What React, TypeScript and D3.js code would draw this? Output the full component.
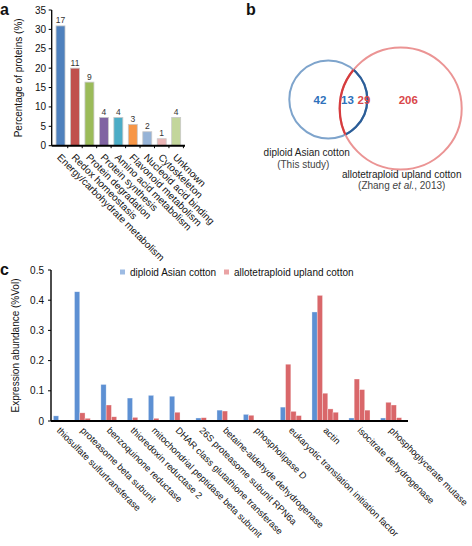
import React from 'react';
import * as d3 from 'd3';

const FONT = '"Liberation Sans", Arial, Helvetica, sans-serif';

// ---------- Panel a data ----------
const catA = [
  'Energy/carbohydrate metabolism',
  'Redox homeostasis',
  'Protein degradation',
  'Protein synthesis',
  'Amino acid metabolism',
  'Flavonoid metabolism',
  'Nucleoid acid binding',
  'Cytoskeleton',
  'Unknown',
];
const pctA = [30.9, 20.0, 16.4, 7.3, 7.3, 5.5, 3.6, 1.8, 7.3];
const countA = [17, 11, 9, 4, 4, 3, 2, 1, 4];
const colorsA = ['#4f81bd', '#c0504d', '#9bbb59', '#8064a2', '#4bacc6', '#f79646', '#95b3d7', '#eab4b4', '#c3d69b'];
const ticksA = [0, 5, 10, 15, 20, 25, 30, 35];

// ---------- Panel b data ----------
const vennCounts = [42, 13, 29, 206];
const vennSetA = ['diploid Asian cotton', '(This study)'];
const vennSetB = ['allotetraploid upland cotton', '(Zhang ', 'et al.', ', 2013)'];

// ---------- Panel c data ----------
const catC = [
  'thiosulfate sulfurtransferase',
  'proteasome beta subunit',
  'benzoquinone reductase',
  'thioredoxin reductase 2',
  'mitochondrial peptidase beta subunit',
  'DHAR class glutathione transferase',
  '26S proteasome subunit RPN6a',
  'betaine-aldehyde dehydrogenase',
  'phospholipase D',
  'eukaryotic translation initiation factor',
  'actin',
  'isocitrate dehydrogenase',
  'phosphoglycerate mutase',
];
const diploidC = [0.017, 0.428, 0.121, 0.076, 0.085, 0.082, 0.01, 0.036, 0.022, 0.046, 0.361, 0.01, 0.01];
const uplandC = [
  [0],
  [0.027, 0.009],
  [0.053, 0.014],
  [0.012],
  [0.009],
  [0.029, 0.002],
  [0.011],
  [0.033, 0.002],
  [0.019, 0.002, 0, 0],
  [0.188, 0.032, 0.018],
  [0.416, 0.092, 0.04, 0.029],
  [0.139, 0.104, 0.036],
  [0.062, 0.053, 0.011],
];
const ticksC = [0, 0.1, 0.2, 0.3, 0.4, 0.5];
const seriesC = ['diploid Asian cotton', 'allotetraploid upland cotton'];

export default function App() {
  // ---- Panel a scales ----
  const xA = d3.scaleBand<string>().domain(catA).range([51.7, 185]).paddingInner(0.38).paddingOuter(0.3);
  const yA = d3.scaleLinear().domain([0, 35]).range([145.7, 10]);

  // ---- Panel c scales ----
  const GAP = 2;
  let acc = 0;
  const groups = catC.map((c, i) => {
    const n = 1 + uplandC[i].length;
    const g = { cat: c, blue: diploidC[i], reds: uplandC[i], start: acc, n };
    acc += n + GAP;
    return g;
  });
  const total = acc - GAP;
  const xC = d3.scaleLinear().domain([-0.45, total + 1.2]).range([51, 408]);
  const yC = d3.scaleLinear().domain([0, 0.5]).range([421, 270]);
  const slotW = xC(1) - xC(0);

  const blueC = '#5d90d3';
  const redC = '#d9676a';

  // ---- Venn geometry ----
  const cA = { x: 328.3, y: 99.5, r: 39 };
  const cB = { x: 400.7, y: 108.5, r: 61 };

  return (
    <svg width={472} height={546} style={{ position: 'absolute', left: 0, top: 0, background: '#fff' }} fontFamily={FONT}>
      <rect x={0} y={0} width={472} height={546} fill="#fff" />
      <defs>
        <clipPath id="clipA"><circle cx={cA.x} cy={cA.y} r={cA.r} /></clipPath>
        <clipPath id="clipB"><circle cx={cB.x} cy={cB.y} r={cB.r} /></clipPath>
      </defs>

      {/* ================= Panel a ================= */}
      <text x={0} y={15} fontSize={16} fontWeight="bold" fill="#111">a</text>
      {pctA.map((v, i) => (
        <g key={'a' + i}>
          <rect x={xA(catA[i])!} y={yA(v)} width={xA.bandwidth()} height={yA(0) - yA(v)}
            fill={colorsA[i]} stroke="#c8c8c8" strokeWidth={0.8} />
          <text x={xA(catA[i])! + xA.bandwidth() / 2} y={yA(v) - 2.5} fontSize={8.5} textAnchor="middle" fill="#333">{countA[i]}</text>
        </g>
      ))}
      <line x1={51.7} x2={51.7} y1={yA(35)} y2={yA(0)} stroke="#000" strokeWidth={1.3} />
      <line x1={51.7} x2={185} y1={yA(0)} y2={yA(0)} stroke="#000" strokeWidth={2} />
      {ticksA.map(t => (
        <g key={'ta' + t}>
          <line x1={48.7} x2={51.7} y1={yA(t)} y2={yA(t)} stroke="#000" strokeWidth={1} />
          <text x={46} y={yA(t)} dy="0.35em" fontSize={10} textAnchor="end" fill="#111">{t}</text>
        </g>
      ))}
      {catA.map((c, i) => (
        <line key={'xt' + i} x1={xA(c)! + xA.bandwidth() + xA.step() * 0.19} x2={xA(c)! + xA.bandwidth() + xA.step() * 0.19}
          y1={yA(0)} y2={yA(0) + 2.5} stroke="#000" strokeWidth={1} />
      ))}
      <text transform={`translate(22,${(yA(0) + yA(35)) / 2}) rotate(-90)`} fontSize={10} textAnchor="middle" fill="#111">
        Percentage of proteins (%)
      </text>
      {catA.map((c, i) => {
        const cx = xA(c)! + xA.bandwidth() / 2 - 4;
        return (
          <text key={'la' + i} transform={`translate(${cx},158) rotate(45)`} fontSize={10} fill="#111">{c}</text>
        );
      })}

      {/* ================= Panel b ================= */}
      <text x={246} y={15} fontSize={16} fontWeight="bold" fill="#111">b</text>
      <circle cx={cA.x} cy={cA.y} r={cA.r} fill="none" stroke="#7ea4cc" strokeWidth={2} />
      <circle cx={cB.x} cy={cB.y} r={cB.r} fill="none" stroke="#eb9494" strokeWidth={2} />
      <circle cx={cA.x} cy={cA.y} r={cA.r} fill="none" stroke="#2c5d97" strokeWidth={2.2} clipPath="url(#clipB)" />
      <circle cx={cB.x} cy={cB.y} r={cB.r} fill="none" stroke="#d63c3e" strokeWidth={2.2} clipPath="url(#clipA)" />
      <text x={320} y={103.5} fontSize={11.5} fontWeight="bold" textAnchor="middle" fill="#2f71bb">{vennCounts[0]}</text>
      <text x={347.5} y={103.5} fontSize={11.5} fontWeight="bold" textAnchor="middle" fill="#2f71bb">{vennCounts[1]}</text>
      <text x={364} y={103.5} fontSize={11.5} fontWeight="bold" textAnchor="middle" fill="#d9474a">{vennCounts[2]}</text>
      <text x={408.3} y={103.5} fontSize={11.5} fontWeight="bold" textAnchor="middle" fill="#d9474a">{vennCounts[3]}</text>
      <text x={306.7} y={156} fontSize={10} textAnchor="middle" fill="#222">{vennSetA[0]}</text>
      <text x={303.3} y={167.5} fontSize={10} textAnchor="middle" fill="#444">{vennSetA[1]}</text>
      <text x={401.7} y={177.5} fontSize={10} textAnchor="middle" fill="#222">{vennSetB[0]}</text>
      <text x={401.7} y={189} fontSize={10} textAnchor="middle" fill="#444">
        {vennSetB[1]}<tspan fontStyle="italic">{vennSetB[2]}</tspan>{vennSetB[3]}
      </text>

      {/* ================= Panel c ================= */}
      <text x={0} y={275} fontSize={16} fontWeight="bold" fill="#111">c</text>
      {/* legend */}
      <rect x={120} y={269.5} width={5} height={5} fill="#9dbbe3" />
      <text x={130} y={272} dy="0.35em" fontSize={10} fill="#111">{seriesC[0]}</text>
      <rect x={224} y={269.5} width={5} height={5} fill="#eaa3a4" />
      <text x={234} y={272} dy="0.35em" fontSize={10} fill="#111">{seriesC[1]}</text>

      {groups.map((g, i) => (
        <g key={'g' + i}>
          <rect x={xC(g.start)} y={yC(g.blue)} width={slotW} height={yC(0) - yC(g.blue)}
            fill={blueC} stroke="#ffffff" strokeOpacity={0.55} strokeWidth={0.6} />
          {g.reds.map((v, j) => v > 0 ? (
            <rect key={j} x={xC(g.start + 1 + j)} y={yC(v)} width={slotW} height={yC(0) - yC(v)}
              fill={redC} stroke="#ffffff" strokeOpacity={0.55} strokeWidth={0.6} />
          ) : null)}
        </g>
      ))}
      <line x1={51} x2={51} y1={yC(0.5)} y2={yC(0)} stroke="#000" strokeWidth={1.4} />
      <line x1={51} x2={408} y1={yC(0)} y2={yC(0)} stroke="#000" strokeWidth={2} />
      {ticksC.map(t => (
        <g key={'tc' + t}>
          <line x1={48} x2={51} y1={yC(t)} y2={yC(t)} stroke="#000" strokeWidth={1} />
          <text x={44} y={yC(t)} dy="0.35em" fontSize={10} textAnchor="end" fill="#111">{t === 0 ? '0' : t.toFixed(1)}</text>
        </g>
      ))}
      <text transform={`translate(19,${(yC(0) + yC(0.5)) / 2}) rotate(-90)`} fontSize={10} textAnchor="middle" fill="#111">
        Expression abundance (%Vol)
      </text>
      {groups.map((g, i) => {
        const cx = xC(g.start + g.n / 2) - 2.5;
        return (
          <text key={'lc' + i} transform={`translate(${cx},431) rotate(45)`} fontSize={9.3} fill="#111">{g.cat}</text>
        );
      })}
    </svg>
  );
}
